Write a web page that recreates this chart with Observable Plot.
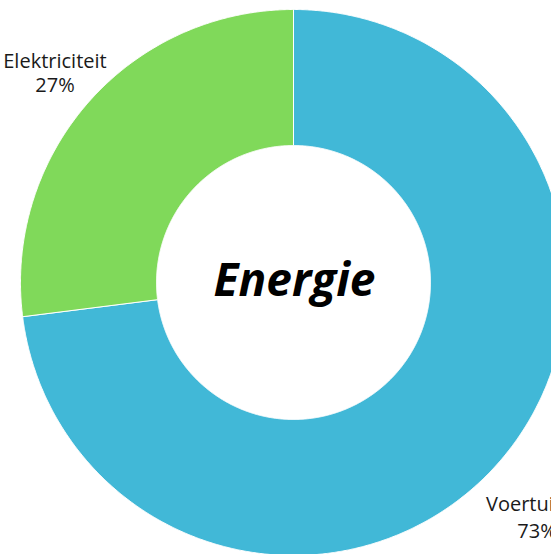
<!DOCTYPE html>
<html>
<head>
<meta charset="utf-8">
<script src="https://cdn.jsdelivr.net/npm/d3@7"></script>
<script src="https://cdn.jsdelivr.net/npm/@observablehq/plot@0.6"></script>
<style>
  html, body { margin: 0; padding: 0; background: #fff; overflow: hidden; }
  #chart { width: 551px; height: 554px; overflow: hidden; }
</style>
</head>
<body>
<div id="chart"></div>
<script>
// Data
const categories = ["Voertuigen", "Elektriciteit"];
const values = [73, 27];
const colors = ["#41b8d7", "#80d95a"];
const centerTitle = "Energie";

// Layout
const W = 551, H = 554;
const cx = 293, cy = 282, rOuter = 273, rInner = 137, rLabel = 318;

const rows = categories.map((name, i) => ({name, value: values[i], color: colors[i]}));
const arcs = d3.pie().sort(null).value(d => d.value)(rows);

const pt = (r, a) => ({x: cx + r * Math.sin(a), y: cy - r * Math.cos(a)});

// Slice polygons derived from pie angles
const poly = [];
const step = Math.PI / 720;
for (const a of arcs) {
  const n = Math.max(2, Math.ceil((a.endAngle - a.startAngle) / step));
  const ring = [];
  for (let k = 0; k <= n; k++) ring.push(pt(rOuter, a.startAngle + (a.endAngle - a.startAngle) * k / n));
  for (let k = n; k >= 0; k--) ring.push(pt(rInner, a.startAngle + (a.endAngle - a.startAngle) * k / n));
  ring.push(ring[0]);
  for (const p of ring) poly.push({...p, name: a.data.name, color: a.data.color});
}

// Labels at mid-angle
const labels = arcs.map(a => {
  const m = (a.startAngle + a.endAngle) / 2;
  return {...pt(rLabel, m), name: a.data.name, value: a.data.value, lower: Math.cos(m) < 0};
});
const labelText = d => `${d.name}\n${d.value}%`;

const chart = Plot.plot({
  width: W,
  height: H,
  margin: 0,
  style: {background: "#fff", overflow: "hidden"},
  x: {domain: [0, W], range: [0, W], axis: null},
  y: {domain: [0, H], range: [0, H], axis: null},
  color: {type: "identity"},
  marks: [
    Plot.line(poly, {x: "x", y: "y", z: "name", fill: "color", stroke: "#fff", strokeWidth: 1, curve: "linear"}),
    Plot.text(labels.filter(d => !d.lower), {
      x: "x", y: "y", text: labelText, fontFamily: "Open Sans", fontSize: 20,
      lineHeight: 1.2, lineAnchor: "middle", fill: "#1a1a1a"
    }),
    Plot.text(labels.filter(d => d.lower), {
      x: "x", y: "y", text: labelText, fontFamily: "Open Sans", fontSize: 20,
      lineHeight: 1.35, lineAnchor: "top", fill: "#1a1a1a", dx: 5, dy: -1
    }),
    Plot.text([{x: cx, y: cy, t: centerTitle}], {
      x: "x", y: "y", text: "t", fontFamily: "Open Sans", fontSize: 46,
      fontWeight: "bold", fontStyle: "italic", fill: "#000", dx: 1, dy: -1
    })
  ]
});
document.getElementById("chart").appendChild(chart);
</script>
</body>
</html>
